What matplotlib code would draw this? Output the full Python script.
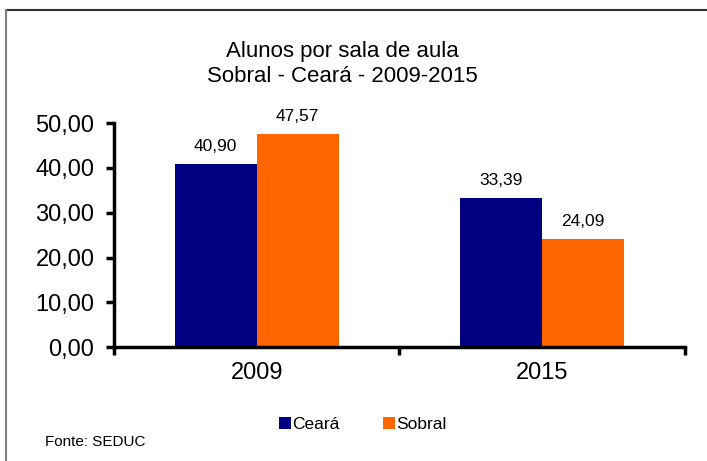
import matplotlib.pyplot as plt
import numpy as np
from matplotlib.patches import Rectangle

plt.rcParams['font.family'] = ['Liberation Sans', 'DejaVu Sans']

anos = ['2009', '2015']
ceara = [40.90, 33.39]
sobral = [47.57, 24.09]
yticks = [0, 10, 20, 30, 40, 50]

fig = plt.figure(figsize=(7.07, 4.61), dpi=100)
ax = fig.add_axes([0.161, 0.247, 0.808, 0.486])

x = np.arange(len(anos))
w = 0.287
b1 = ax.bar(x - w / 2, ceara, w, color='#000080', label='Ceará')
b2 = ax.bar(x + w / 2, sobral, w, color='#FF6600', label='Sobral')

def fmt(v):
    return f'{v:.2f}'.replace('.', ',')

for bars, vals in [(b1, ceara), (b2, sobral)]:
    for r, v in zip(bars, vals):
        ax.text(r.get_x() + r.get_width() / 2, v + 2.2, fmt(v),
                ha='center', va='bottom', fontsize=12.5)

ax.set_xlim(-0.5, 1.5)
ax.set_ylim(0, 50)
ax.set_yticks(yticks)
ax.set_yticklabels([fmt(t) for t in yticks], fontsize=17)
ax.set_xticks(x)
ax.set_xticklabels(anos, fontsize=17)
ax.tick_params(axis='x', length=0, pad=11)
ax.set_xticks([-0.5, 0.5, 1.5], minor=True)
ax.tick_params(axis='x', which='minor', length=6, width=2.5, direction='out')
ax.tick_params(axis='y', length=6, width=2.5, direction='out', pad=8)
for s in ['top', 'right']:
    ax.spines[s].set_visible(False)
for s in ['left', 'bottom']:
    ax.spines[s].set_linewidth(2.5)

fig.text(0.484, 0.889, 'Alunos por sala de aula', ha='center', va='center', fontsize=16)
fig.text(0.484, 0.835, 'Sobral - Ceará - 2009-2015', ha='center', va='center', fontsize=16)

fig.legend(handles=[b1, b2], loc='center', bbox_to_anchor=(0.513, 0.080), ncol=2,
           frameon=False, fontsize=12.5, handlelength=0.7, handleheight=0.7,
           handletextpad=0.08, columnspacing=2.5)

fig.text(0.064, 0.041, 'Fonte: SEDUC', ha='left', va='center', fontsize=11)

# moldura: topo escuro, esquerda cinza
fig.add_artist(plt.Line2D([0.009, 1.0], [0.978, 0.978], transform=fig.transFigure,
                          color='#333333', linewidth=1.5))
fig.add_artist(plt.Line2D([0.009, 0.009], [0.0, 0.978], transform=fig.transFigure,
                          color='#808080', linewidth=1.5))

fig.savefig('out.png', dpi=100)
